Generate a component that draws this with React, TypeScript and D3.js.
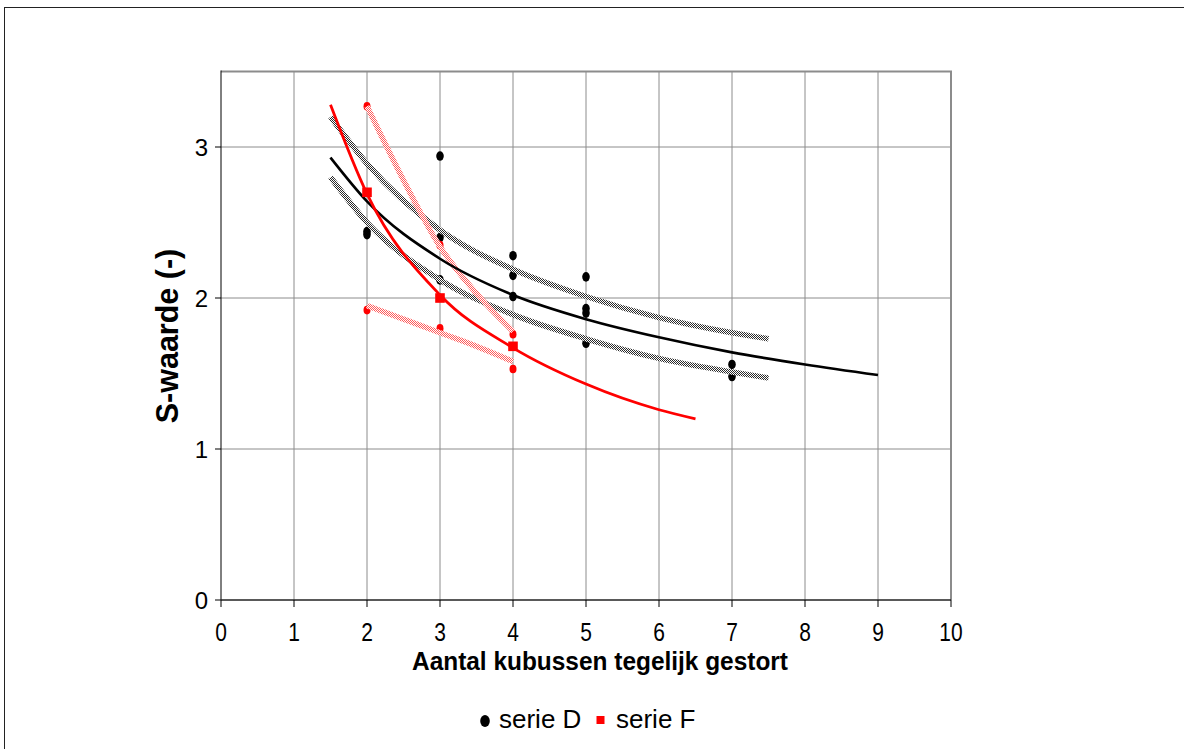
import React from "react";
import * as d3 from "d3";

// ---- data ----
const xTicks = [0, 1, 2, 3, 4, 5, 6, 7, 8, 9, 10];
const yTicks = [0, 1, 2, 3];

// serie D individual measurements
const serieDX = [2, 2, 3, 3, 3, 4, 4, 4, 5, 5, 5, 5, 7, 7];
const serieDY = [2.42, 2.44, 2.94, 2.4, 2.12, 2.28, 2.15, 2.01, 2.14, 1.93, 1.9, 1.7, 1.56, 1.48];

// serie F means (squares) and individual measurements
const serieFMeanX = [2, 3, 4];
const serieFMeanY = [2.7, 2.0, 1.68];
const serieFPtX = [2, 2, 3, 3, 4, 4];
const serieFPtY = [3.27, 1.92, 2.35, 1.8, 1.76, 1.53];

// trend line of serie D and its band
const trendDX = [1.5, 2, 3, 4, 5, 6, 7, 8, 9];
const trendDY = [2.93, 2.64, 2.26, 2.02, 1.86, 1.74, 1.64, 1.56, 1.49];
const bandDX = [1.5, 2, 3, 4, 5, 6, 7, 7.5];
const bandDUpperY = [3.2, 2.89, 2.45, 2.19, 2.01, 1.87, 1.77, 1.73];
const bandDLowerY = [2.8, 2.5, 2.12, 1.89, 1.73, 1.6, 1.51, 1.47];

// trend line of serie F and its band
const trendFX = [1.5, 2, 3, 4, 5, 6, 6.5];
const trendFY = [3.28, 2.69, 2.02, 1.67, 1.43, 1.26, 1.2];
const bandFX = [2, 2.5, 3, 3.5, 4];
const bandFUpperY = [3.27, 2.78, 2.34, 2.03, 1.78];
const bandFLowerY = [1.95, 1.86, 1.77, 1.68, 1.58];

const zip = (xs: number[], ys: number[]) => xs.map((x, i) => [x, ys[i]] as [number, number]);

export default function App() {
  const W = 1184;
  const H = 749;
  const x = d3.scaleLinear().domain([0, 10]).range([221, 951]);
  const y = d3.scaleLinear().domain([0, 3.5]).range([600, 71.5]);
  const line = d3
    .line<[number, number]>()
    .x((d) => x(d[0]))
    .y((d) => y(d[1]))
    .curve(d3.curveMonotoneX);

  const font = "'Liberation Sans', Arial, sans-serif";
  const grid = "#8c8c8c";

  return (
    <svg
      width={W}
      height={H}
      style={{ position: "absolute", left: 0, top: 0, display: "block", background: "#fff" }}
    >
      <defs>
        <pattern id="dgray" width={2} height={2} patternUnits="userSpaceOnUse">
          <rect width={2} height={2} fill="#fff" />
          <rect width={1} height={1} fill="#2a2a2a" />
          <rect x={1} y={1} width={1} height={1} fill="#2a2a2a" />
        </pattern>
        <pattern id="dred" width={2} height={2} patternUnits="userSpaceOnUse">
          <rect width={2} height={2} fill="#fff" />
          <rect width={1} height={1} fill="#ff5a5a" />
          <rect x={1} y={1} width={1} height={1} fill="#ff5a5a" />
        </pattern>
      </defs>
      <rect x={0} y={0} width={W} height={H} fill="#fff" />
      {/* outer frame */}
      <rect x={4.5} y={7.5} width={W + 20} height={H + 20} fill="none" stroke="#222" strokeWidth={1} />

      {/* grid */}
      {xTicks.filter((t) => t > 0).map((t) => (
        <line key={"gx" + t} x1={x(t)} x2={x(t)} y1={y(3.5)} y2={y(0)} stroke={grid} strokeWidth={t === 10 ? 2 : 1} />
      ))}
      {yTicks.filter((t) => t > 0).map((t) => (
        <line key={"gy" + t} x1={x(0)} x2={x(10)} y1={y(t)} y2={y(t)} stroke={grid} strokeWidth={1} />
      ))}
      <line x1={x(0)} x2={x(10) + 1} y1={y(3.5)} y2={y(3.5)} stroke={grid} strokeWidth={2} />

      {/* axes */}
      <line x1={x(0)} x2={x(0)} y1={y(3.5) - 1} y2={y(0)} stroke="#000" strokeWidth={1} />
      <line x1={x(0)} x2={x(10)} y1={y(0)} y2={y(0)} stroke="#222" strokeWidth={1.5} />
      {yTicks.map((t) => (
        <g key={"yt" + t}>
          <line x1={x(0) - 6} x2={x(0)} y1={y(t)} y2={y(t)} stroke="#000" />
          <text x={x(0) - 13} y={y(t) + 8.5} textAnchor="end" fontFamily={font} fontSize={24} fill="#000">
            {t}
          </text>
        </g>
      ))}
      {xTicks.map((t) => (
        <g key={"xt" + t}>
          <line x1={x(t)} x2={x(t)} y1={y(0)} y2={y(0) + 7} stroke="#000" />
          <text
            transform={`translate(${x(t)},641) scale(0.84,1)`}
            textAnchor="middle"
            fontFamily={font}
            fontSize={25}
            fill="#000"
          >
            {t}
          </text>
        </g>
      ))}

      {/* axis titles */}
      <text
        x={600}
        y={670}
        textAnchor="middle"
        fontFamily={font}
        fontSize={26}
        fontWeight="bold"
        textLength={376}
        lengthAdjust="spacingAndGlyphs"
        fill="#000"
      >
        Aantal kubussen tegelijk gestort
      </text>
      <text
        transform="translate(178,336) rotate(-90)"
        textAnchor="middle"
        fontFamily={font}
        fontSize={30.5}
        fontWeight="bold"
        fill="#000"
      >
        S-waarde (-)
      </text>

      {/* data points */}
      {zip(serieDX, serieDY).map((d, i) => (
        <ellipse key={"d" + i} cx={x(d[0])} cy={y(d[1])} rx={3.8} ry={4.8} fill="#000" />
      ))}
      {zip(serieFPtX, serieFPtY).map((d, i) => (
        <ellipse key={"f" + i} cx={x(d[0])} cy={y(d[1])} rx={3.5} ry={4.3} fill="#ff0000" />
      ))}

      {/* confidence bands */}
      <path d={line(zip(bandDX, bandDUpperY)) || ""} fill="none" stroke="url(#dgray)" strokeWidth={5.5} />
      <path d={line(zip(bandDX, bandDLowerY)) || ""} fill="none" stroke="url(#dgray)" strokeWidth={5.5} />
      <path d={line(zip(bandFX, bandFUpperY)) || ""} fill="none" stroke="url(#dred)" strokeWidth={5.5} />
      <path d={line(zip(bandFX, bandFLowerY)) || ""} fill="none" stroke="url(#dred)" strokeWidth={5.5} />

      {/* trend lines */}
      <path d={line(zip(trendDX, trendDY)) || ""} fill="none" stroke="#000" strokeWidth={2.6} />
      <path d={line(zip(trendFX, trendFY)) || ""} fill="none" stroke="#ff0000" strokeWidth={2.8} />

      {/* means of serie F */}
      {zip(serieFMeanX, serieFMeanY).map((d, i) => (
        <rect key={"m" + i} x={x(d[0]) - 4.8} y={y(d[1]) - 4.8} width={9.6} height={9.6} fill="#ff0000" />
      ))}

      {/* legend */}
      <ellipse cx={485} cy={721} rx={4.8} ry={6} fill="#000" />
      <text x={499} y={728} fontFamily={font} fontSize={26} fill="#000">
        serie D
      </text>
      <rect x={596.5} y={716} width={8} height={8} fill="#ff0000" />
      <text x={616} y={728} fontFamily={font} fontSize={26} fill="#000">
        serie F
      </text>
    </svg>
  );
}
